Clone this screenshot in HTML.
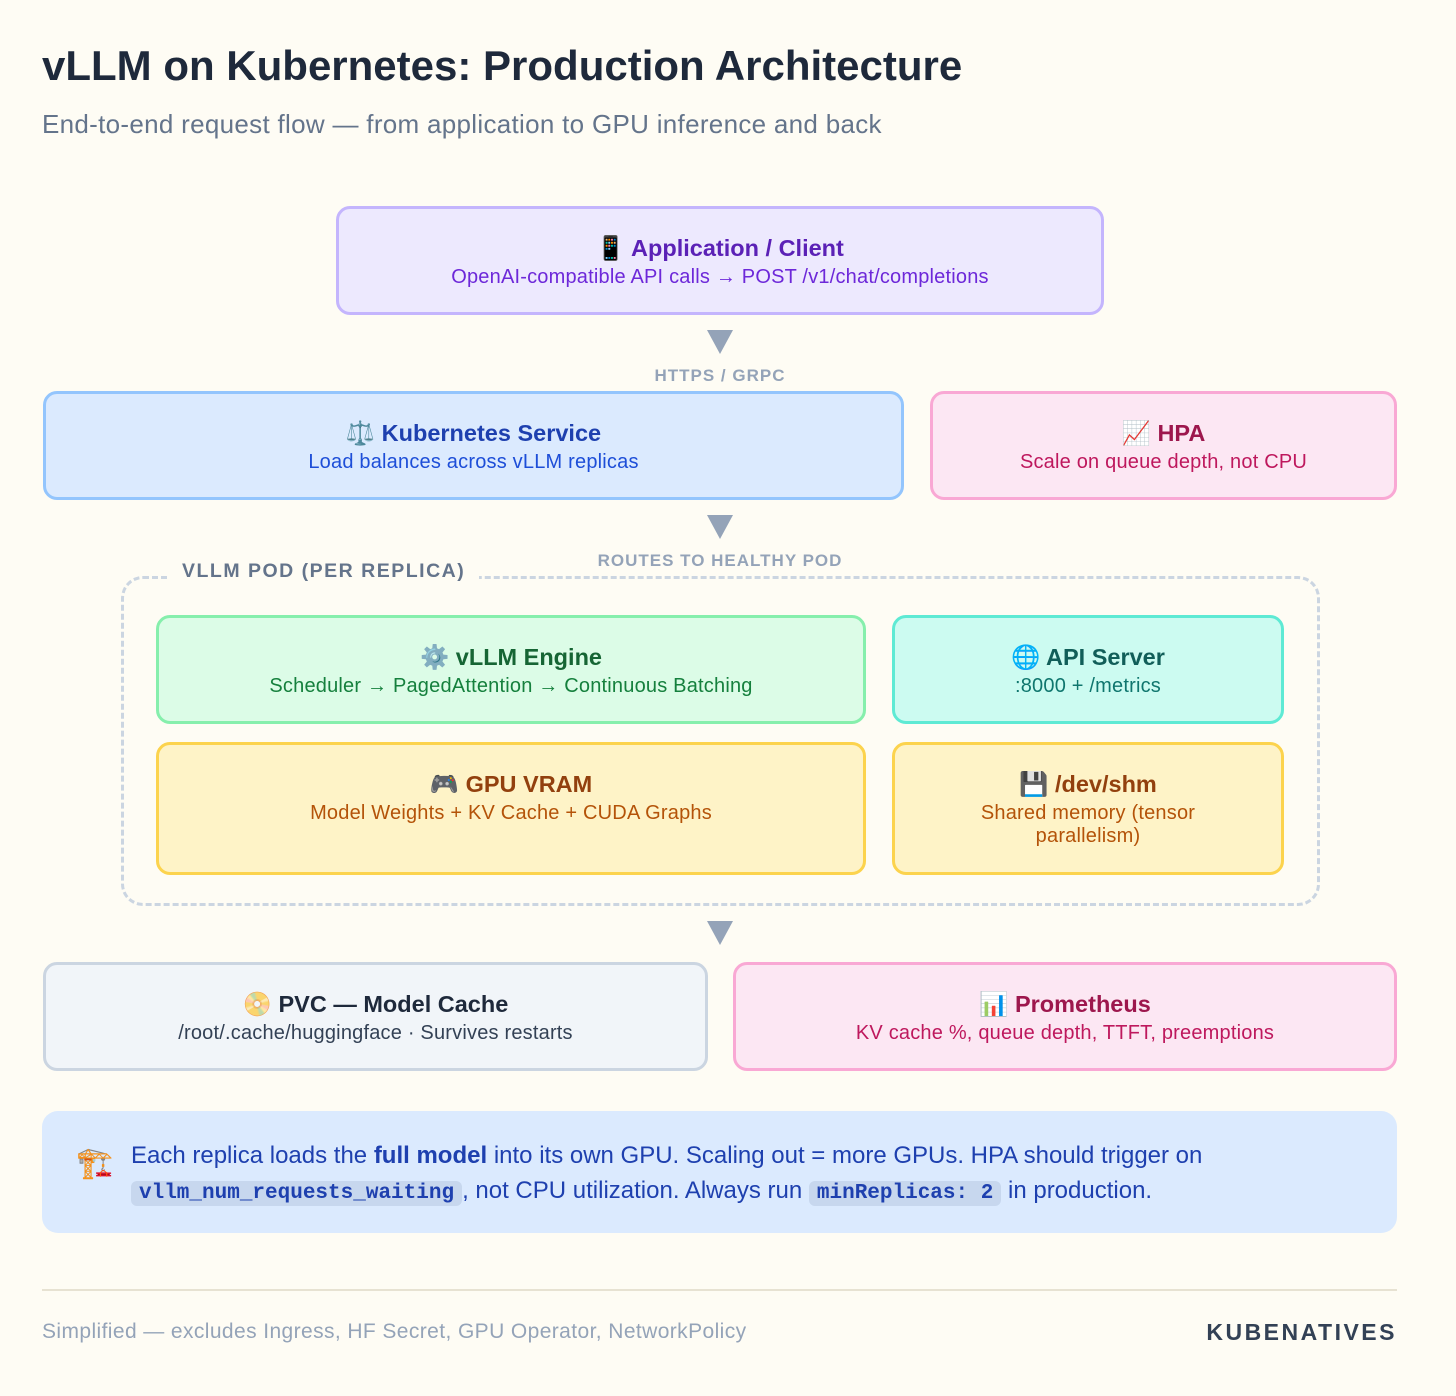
<!DOCTYPE html>
<html><head><meta charset="utf-8"><style>
*{margin:0;padding:0;box-sizing:border-box}
body{width:1456px;height:1396px;background:#fefcf4;font-family:"Liberation Sans","DejaVu Sans",sans-serif;position:relative;overflow:hidden}
.a{position:absolute}
.box{position:absolute;border:3px solid;border-radius:14px;text-align:center;display:flex;flex-direction:column;justify-content:center}
.t{font-size:23.5px;font-weight:bold;line-height:30px}
.s{font-size:20px;line-height:23px;margin-top:3px;letter-spacing:0.2px}
.tri{position:absolute;width:0;height:0;border-left:13px solid transparent;border-right:13px solid transparent;border-top:24px solid #94a3b8}
.lbl{position:absolute;font-size:17px;font-weight:bold;color:#94a3b8;letter-spacing:1px;text-align:center}
code{font-family:"Liberation Mono",monospace;font-weight:bold;background:#c7d7ee;border-radius:6px;padding:1px 8px;font-size:21px}
</style></head><body>
<div class="a" style="left:42px;top:42px;font-size:42px;font-weight:bold;color:#1e293b">vLLM on Kubernetes: Production Architecture</div>
<div class="a" style="left:42px;top:109px;font-size:26px;color:#64748b;letter-spacing:0.3px">End-to-end request flow — from application to GPU inference and back</div>

<div class="box" style="left:336px;top:206px;width:768px;height:109px;background:#ede9fe;border-color:#c4b5fd"><div class="t" style="color:#5b21b6">📱 Application / Client</div><div class="s" style="color:#6d28d9">OpenAI-compatible API calls → POST /v1/chat/completions</div></div>
<div class="tri" style="left:707px;top:330px"></div>
<div class="lbl" style="left:570px;width:300px;top:366px">HTTPS / GRPC</div>

<div class="box" style="left:43px;top:391px;width:861px;height:109px;background:#dbeafe;border-color:#93c5fd"><div class="t" style="color:#1e40af">⚖️ Kubernetes Service</div><div class="s" style="color:#1d4ed8">Load balances across vLLM replicas</div></div>
<div class="box" style="left:930px;top:391px;width:467px;height:109px;background:#fce7f3;border-color:#f9a8d4"><div class="t" style="color:#9d174d">📈 HPA</div><div class="s" style="color:#be185d">Scale on queue depth, not CPU</div></div>
<div class="tri" style="left:707px;top:515px"></div>
<div class="lbl" style="left:520px;width:400px;top:551px">ROUTES TO HEALTHY POD</div>

<div class="a" style="left:121px;top:576px;width:1199px;height:330px;border:3px dashed #cbd5e1;border-radius:22px"></div>
<div class="a" style="left:168px;top:560px;padding:0 14px;background:#fefcf4;font-size:19.5px;font-weight:bold;color:#64748b;letter-spacing:1.5px">VLLM POD (PER REPLICA)</div>

<div class="box" style="left:156px;top:615px;width:710px;height:109px;background:#dcfce7;border-color:#86efac"><div class="t" style="color:#166534">⚙️ vLLM Engine</div><div class="s" style="color:#15803d">Scheduler → PagedAttention → Continuous Batching</div></div>
<div class="box" style="left:892px;top:615px;width:392px;height:109px;background:#ccfbf1;border-color:#5eead4"><div class="t" style="color:#115e59">🌐 API Server</div><div class="s" style="color:#0f766e">:8000 + /metrics</div></div>
<div class="box" style="left:156px;top:742px;width:710px;height:133px;background:#fef3c7;border-color:#fcd34d;justify-content:flex-start;padding-top:24px"><div class="t" style="color:#92400e">🎮 GPU VRAM</div><div class="s" style="color:#b45309">Model Weights + KV Cache + CUDA Graphs</div></div>
<div class="box" style="left:892px;top:742px;width:392px;height:133px;background:#fef3c7;border-color:#fcd34d;justify-content:flex-start;padding-top:24px"><div class="t" style="color:#92400e">💾 /dev/shm</div><div class="s" style="color:#b45309">Shared memory (tensor<br>parallelism)</div></div>

<div class="tri" style="left:707px;top:921px"></div>

<div class="box" style="left:43px;top:962px;width:665px;height:109px;background:#f1f5f9;border-color:#cbd5e1"><div class="t" style="color:#1e293b">📀 PVC — Model Cache</div><div class="s" style="color:#334155">/root/.cache/huggingface · Survives restarts</div></div>
<div class="box" style="left:733px;top:962px;width:664px;height:109px;background:#fce7f3;border-color:#f9a8d4"><div class="t" style="color:#9d174d">📊 Prometheus</div><div class="s" style="color:#be185d">KV cache %, queue depth, TTFT, preemptions</div></div>

<div class="a" style="left:42px;top:1111px;width:1355px;height:122px;background:#dbeafe;border-radius:16px"></div>
<div class="a" style="left:76px;top:1146px;font-size:30px">🏗️</div>
<div class="a" style="left:131px;top:1138px;width:1250px;font-size:24px;line-height:35px;color:#1e40af">Each replica loads the <b>full model</b> into its own GPU. Scaling out = more GPUs. HPA should trigger on <code>vllm_num_requests_waiting</code>, not CPU utilization. Always run <code>minReplicas: 2</code> in production.</div>

<div class="a" style="left:42px;top:1289px;width:1355px;height:2px;background:#e7e2d2"></div>
<div class="a" style="left:42px;top:1320px;font-size:21px;color:#94a3b8;letter-spacing:0.4px">Simplified — excludes Ingress, HF Secret, GPU Operator, NetworkPolicy</div>
<div class="a" style="right:59px;top:1319px;font-size:23px;font-weight:bold;color:#334155;letter-spacing:2.5px">KUBENATIVES</div>
</body></html>
